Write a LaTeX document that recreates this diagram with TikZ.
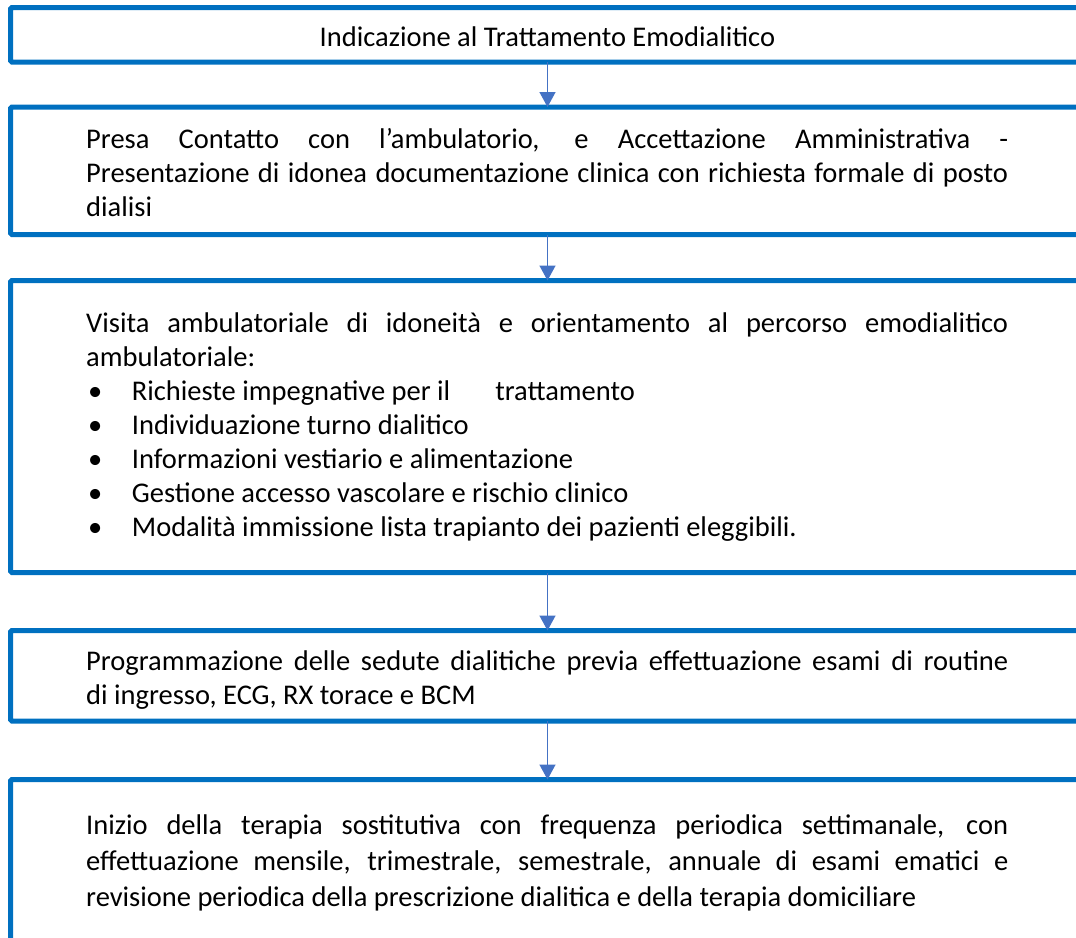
\documentclass[tikz,border=0pt]{standalone}
\usepackage{fontspec}
\setmainfont{Carlito}
\usetikzlibrary{positioning, arrows.meta}

\definecolor{boxblue}{HTML}{0070C0}
\definecolor{arrowblue}{HTML}{4472C4}

\newcommand{\bul}{\hspace*{2pt}\makebox[43.7pt][l]{\textbullet}}

\tikzset{
  stage/.style={draw=boxblue, line width=5pt, rounded corners=1.5pt,
    minimum width=1074pt, inner sep=0pt, outer sep=0pt},
  para/.style={text width=922pt, align=justify, inner sep=0pt,
    font=\fontsize{28.5}{34}\selectfont},
  flow/.style={draw=arrowblue, line width=1.5pt,
    -{Triangle[width=16pt,length=15pt]}},
}

\begin{document}
\begin{tikzpicture}[x=1pt, y=1pt]
\useasboundingbox (0,0) rectangle (1076,-937);
\clip (0,0) rectangle (1076,-937);

% Boxes
\node[stage, minimum height=54.5pt, anchor=north west] (b1) at (10.5,-7.5) {};
\node[stage, minimum height=127.5pt, below=45pt of b1] (b2) {};
\node[stage, minimum height=292pt, below=46pt of b2] (b3) {};
\node[stage, minimum height=90.5pt, below=58pt of b3] (b4) {};
\node[stage, minimum height=200pt, below=58.5pt of b4] (b5) {};

% Texts
\node[inner sep=0pt, font=\fontsize{28.5}{34}\selectfont, anchor=base]
  (t1) at ([yshift=-39pt]b1.north) {Indicazione al Trattamento Emodialitico};
\node[para, anchor=base west] (t2) at ([xshift=75.5pt, yshift=-41pt]b2.north west)
  {Presa Contatto con l’ambulatorio, e Accettazione Amministrativa -\linebreak
   Presentazione di idonea documentazione clinica con richiesta formale di posto\linebreak
   dialisi};
\node[para, anchor=base west] (t3) at ([xshift=75.5pt, yshift=-51.5pt]b3.north west)
  {Visita ambulatoriale di idoneità e orientamento al percorso emodialitico\linebreak
   ambulatoriale:\\
   \bul Richieste impegnative per il\hspace{45pt}trattamento\\
   \bul Individuazione turno dialitico\\
   \bul Informazioni vestiario e alimentazione\\
   \bul Gestione accesso vascolare e rischio clinico\\
   \bul Modalità immissione lista trapianto dei pazienti eleggibili.};
\node[para, anchor=base west] (t4) at ([xshift=75.5pt, yshift=-39.5pt]b4.north west)
  {Programmazione delle sedute dialitiche previa effettuazione esami di routine\linebreak
   di ingresso, ECG, RX torace e BCM};
\node[para, font=\fontsize{28.5}{36}\selectfont, anchor=base west] (t5)
  at ([xshift=75.5pt, yshift=-54.5pt]b5.north west)
  {Inizio della terapia sostitutiva con frequenza periodica settimanale, con\linebreak
   effettuazione mensile, trimestrale, semestrale, annuale di esami ematici e\linebreak
   revisione periodica della prescrizione dialitica e della terapia domiciliare};

% Arrows to next box
\foreach \i in {1,2,3,4} {
  \pgfmathtruncatemacro{\j}{\i + 1}
  \draw[flow] (b\i) -- (b\j);
}
\end{tikzpicture}
\end{document}
